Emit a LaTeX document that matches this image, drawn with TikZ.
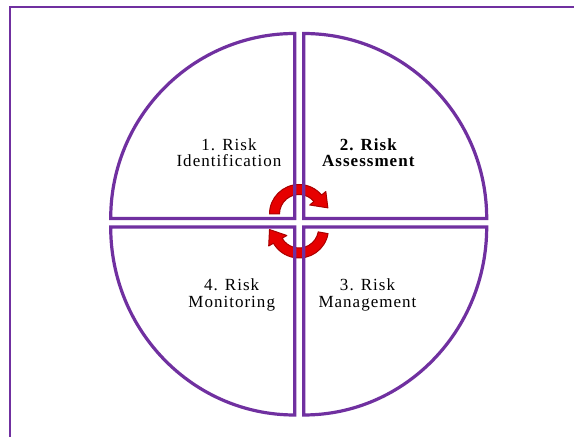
\documentclass[tikz,border=0pt]{standalone}
\usepackage{fontspec}
\setmainfont{Liberation Serif}[LetterSpace=6]
\definecolor{qpurple}{RGB}{112,48,160}
\definecolor{arrowred}{RGB}{230,0,0}
\definecolor{arrowdark}{RGB}{170,0,0}
\begin{document}
\begin{tikzpicture}[x=1pt,y=1pt,
  quad/.style={draw=qpurple, line width=3.2pt, line join=miter},
  frame/.style={draw=qpurple, line width=2pt},
  cyc/.style={fill=arrowred, draw=arrowdark, line width=1pt, line join=round},
  lbl/.style={align=center, font=\fontsize{17}{16.8}\selectfont, inner sep=0pt, text=black}]
\useasboundingbox (0,0) rectangle (574,437);
\fill[white] (0,0) rectangle (574,437);
\draw[frame] (10,-10) rectangle (600,430.3);
% cycle arrows
\begin{scope}[shift={(299,223)}]
  \path[cyc] (180:29.5) arc[start angle=180,end angle=40,radius=29.5] -- (40:35) -- (12:29.5) -- (40:14) -- (40:19.5) arc[start angle=40,end angle=180,radius=19.5] -- cycle;
\end{scope}
\begin{scope}[shift={(299,208.5)},rotate=170]
  \path[cyc] (180:29.5) arc[start angle=180,end angle=40,radius=29.5] -- (40:35) -- (12:29.5) -- (40:14) -- (40:19.5) arc[start angle=40,end angle=180,radius=19.5] -- cycle;
\end{scope}
% quadrants
\draw[quad] (294.7,218.5) -- (294.7,403.5) arc[start angle=90,end angle=180,x radius=184,y radius=185] -- cycle;
\draw[quad] (303.7,218.5) -- (303.7,403.5) arc[start angle=90,end angle=0,x radius=183,y radius=185] -- cycle;
\draw[quad] (294.7,210) -- (294.7,22) arc[start angle=270,end angle=180,x radius=184,y radius=188] -- cycle;
\draw[quad] (303.7,210) -- (303.7,22) arc[start angle=270,end angle=360,x radius=183,y radius=188] -- cycle;
% labels
\node[lbl] (t1) at (229,284.3) {1. Risk\\Identification};
\node[lbl,font=\fontsize{17}{16.8}\selectfont\bfseries] (t2) at (368.3,284.3) {2. Risk\\Assessment};
\node[lbl] (t4) at (231.7,142.3) {4. Risk\\Monitoring};
\node[lbl] (t3) at (367.5,142.3) {3. Risk\\Management};
\end{tikzpicture}
\end{document}
